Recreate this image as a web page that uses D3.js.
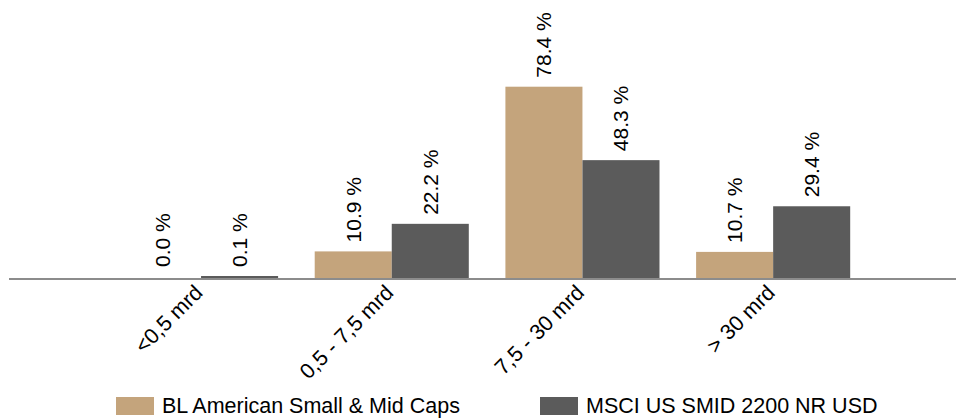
<!DOCTYPE html>
<html>
<head>
    <meta charset="utf-8">
    <script src="https://d3js.org/d3.v7.min.js"></script>
    <style>
        body { margin: 0; background: #fff; }
        text { font-family: "Liberation Sans", Arial, sans-serif; fill: #000; }
    </style>
</head>
<body>
    <svg id="chart" width="957" height="418"></svg>
    <script>
        const categories = ["<0,5 mrd", "0,5 - 7,5 mrd", "7,5 - 30 mrd", "> 30 mrd"];
        const seriesNames = ["BL American Small & Mid Caps", "MSCI US SMID 2200 NR USD"];
        const fundValues = [0.0, 10.9, 78.4, 10.7];
        const indexValues = [0.1, 22.2, 48.3, 29.4];
        const colors = ["#c4a47c", "#5b5b5b"];

        const svg = d3.select("#chart");
        const baseY = 278;

        const x0 = d3.scaleBand()
            .domain(categories)
            .range([105.7, 868.5])
            .paddingInner(0.192)
            .paddingOuter(0.096);

        const x1 = d3.scaleBand()
            .domain(seriesNames)
            .range([0, x0.bandwidth()]);

        const y = d3.scaleLinear()
            .domain([0, 100])
            .range([baseY, baseY - 244]);

        const color = d3.scaleOrdinal().domain(seriesNames).range(colors);

        const rows = categories.map((c, i) => ({
            cat: c,
            vals: [
                { name: seriesNames[0], v: fundValues[i] },
                { name: seriesNames[1], v: indexValues[i] }
            ]
        }));

        const groups = svg.selectAll("g.grp").data(rows)
            .join("g")
            .attr("class", "grp")
            .attr("transform", d => "translate(" + x0(d.cat) + ",0)");

        groups.selectAll("rect").data(d => d.vals.filter(v => v.v > 0))
            .join("rect")
            .attr("x", d => x1(d.name))
            .attr("width", x1.bandwidth())
            .attr("y", d => Math.min(y(d.v), baseY - 2))
            .attr("height", d => Math.max(baseY - y(d.v), 2))
            .attr("fill", d => color(d.name));

        groups.selectAll("text.val").data(d => d.vals)
            .join("text")
            .attr("class", "val")
            .attr("transform", d => "translate(" + (x1(d.name) + x1.bandwidth() / 2) + "," + (Math.min(y(d.v), baseY - 2) - 9) + ") rotate(-90)")
            .attr("dy", "0.35em")
            .attr("font-size", 21)
            .text(d => d.v.toFixed(1) + " %");

        // axis line
        svg.append("line")
            .attr("x1", 9).attr("x2", 956)
            .attr("y1", baseY + 1).attr("y2", baseY + 1)
            .attr("stroke", "#8c8c8c")
            .attr("stroke-width", 2);

        // category labels
        svg.selectAll("text.cat").data(categories)
            .join("text")
            .attr("class", "cat")
            .attr("text-anchor", "end")
            .attr("font-size", 21.5)
            .attr("transform", d => "translate(" + (x0(d) + x0.bandwidth() / 2 + 3) + "," + (baseY + 16) + ") rotate(-45)")
            .text(d => d);

        // legend
        const legendX = [116, 540];
        const legend = svg.selectAll("g.leg").data(seriesNames)
            .join("g")
            .attr("class", "leg")
            .attr("transform", (d, i) => "translate(" + legendX[i] + ",397)");

        legend.append("rect")
            .attr("width", 38)
            .attr("height", 18)
            .attr("fill", d => color(d));

        legend.append("text")
            .attr("x", 46)
            .attr("y", 16)
            .attr("font-size", 21.5)
            .text(d => d);
    </script>
</body>
</html>
